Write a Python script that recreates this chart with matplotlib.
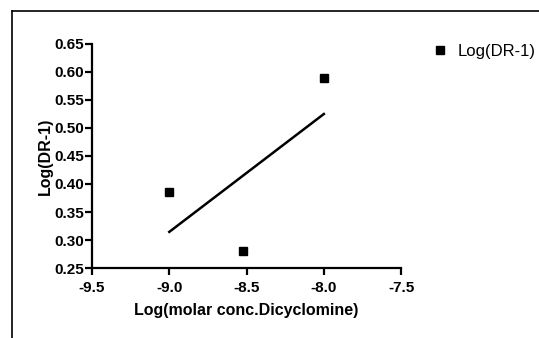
import numpy as np
import matplotlib.pyplot as plt
from matplotlib.lines import Line2D

plt.rcParams['font.family'] = ['Liberation Sans', 'DejaVu Sans']

# data
log_conc = [-9.0, -8.52, -8.0]
log_dr = [0.385, 0.28, 0.59]
xticks = [-9.5, -9.0, -8.5, -8.0, -7.5]
yticks = [0.25, 0.30, 0.35, 0.40, 0.45, 0.50, 0.55, 0.60, 0.65]

fig = plt.figure(figsize=(5.39, 3.38), dpi=100)
ax = fig.add_axes([0.1707, 0.207, 0.5735, 0.663])

# outer frame (cut by the right and bottom edges)
fig.add_artist(Line2D([12/539, 12/539], [0, 1 - 11/338], color='black', lw=1.2))
fig.add_artist(Line2D([12/539, 1], [1 - 11/338, 1 - 11/338], color='black', lw=1.2))

ax.plot(log_conc, log_dr, 's', color='black', ms=5.5, label='Log(DR-1)')
slope, icpt = np.polyfit(log_conc, log_dr, 1)
xs = np.array([min(log_conc), max(log_conc)])
ax.plot(xs, slope*xs + icpt, color='black', lw=1.8)

ax.set_xlim(-9.5, -7.5)
ax.set_ylim(0.25, 0.65)
ax.set_xticks(xticks)
ax.set_yticks(yticks)
ax.set_xticklabels(['%.1f' % v for v in xticks], fontweight='bold', fontsize=11)
ax.set_yticklabels(['%.2f' % v for v in yticks], fontweight='bold', fontsize=11)
for s in ['top', 'right']:
    ax.spines[s].set_visible(False)
for s in ['left', 'bottom']:
    ax.spines[s].set_linewidth(1.6)
ax.tick_params(width=1.6, length=5)
ax.tick_params(axis='x', pad=4.5)
ax.tick_params(axis='y', pad=1)

ax.set_xlabel('Log(molar conc.Dicyclomine)', fontweight='bold', fontsize=11.5, labelpad=5.5)
ax.set_ylabel('Log(DR-1)', fontweight='bold', fontsize=11.5, labelpad=1)

fig.legend(loc='upper left', bbox_to_anchor=(426/539, 1 - 37/338), frameon=False,
           fontsize=12, handlelength=0.9, handletextpad=0.6, borderaxespad=0)

fig.savefig('out.png', dpi=100)
